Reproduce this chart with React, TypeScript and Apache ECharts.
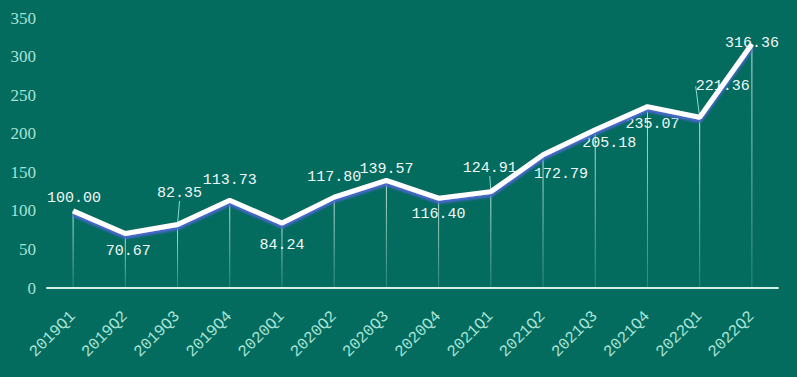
import React, { useEffect, useRef } from "react";
import * as echarts from "echarts";

const categories = [
  "2019Q1", "2019Q2", "2019Q3", "2019Q4", "2020Q1", "2020Q2", "2020Q3",
  "2020Q4", "2021Q1", "2021Q2", "2021Q3", "2021Q4", "2022Q1", "2022Q2",
];
const values = [
  100.0, 70.67, 82.35, 113.73, 84.24, 117.8, 139.57,
  116.4, 124.91, 172.79, 205.18, 235.07, 221.36, 316.36,
];
const yTicks = { min: 0, max: 350, interval: 50 };

// label placement per point: [position, distance, dx, dy, leaderLine]
const labelPlacement: [string, number, number, number, boolean][] = [
  ["top", 4, 1, 0, false],
  ["bottom", 10, 3, 0, false],
  ["top", 5, 2, -18, true],
  ["top", 12, 0, 0, false],
  ["bottom", 14, 0, 0, false],
  ["top", 12, 0, 0, false],
  ["top", 3, 0, 0, false],
  ["bottom", 8, 0, 0, false],
  ["top", 6, -1, -9, true],
  ["bottom", 12, 18, 0, false],
  ["bottom", 6, 14, 0, false],
  ["bottom", 10, 5, 0, false],
  ["top", 5, 23, -18, true],
  ["inside", 0, 0, 0, false],
];

export default function App() {
  const ref = useRef<HTMLDivElement>(null);
  useEffect(() => {
    if (!ref.current) return;
    const chart = echarts.init(ref.current, null, { renderer: "svg" });
    const labelData = values.map((v, i) => {
      const [position, distance, , , leader] = labelPlacement[i];
      return {
        value: v,
        label: { position, distance },
        labelLine: { show: leader },
      };
    });
    chart.setOption({
      animation: false,
      backgroundColor: "#046b5f",
      grid: { left: 47, right: 19, top: 18, bottom: 89 },
      xAxis: {
        type: "category",
        data: categories,
        boundaryGap: true,
        axisLine: { lineStyle: { color: "#d4f1ea", width: 2 } },
        axisTick: { show: false },
        axisLabel: {
          rotate: 45,
          margin: 26,
          color: "#a6e3d5",
          fontFamily: "Liberation Mono",
          fontSize: 16,
        },
      },
      yAxis: {
        type: "value",
        min: yTicks.min,
        max: yTicks.max,
        interval: yTicks.interval,
        axisLine: { show: false },
        axisTick: { show: false },
        splitLine: { show: false },
        axisLabel: {
          margin: 11,
          color: "#a6e3d5",
          fontFamily: "Liberation Serif",
          fontSize: 17,
        },
      },
      series: [
        {
          type: "bar",
          data: values,
          barWidth: 1,
          silent: true,
          z: 1,
          itemStyle: {
            color: new echarts.graphic.LinearGradient(0, 0, 0, 1, [
              { offset: 0, color: "rgba(210,245,236,0.9)" },
              { offset: 1, color: "rgba(210,245,236,0.2)" },
            ]),
          },
        },
        {
          type: "line",
          data: labelData,
          z: 2,
          symbol: "circle",
          symbolSize: 1,
          itemStyle: { color: "rgba(0,0,0,0)" },
          lineStyle: { opacity: 0 },
          label: {
            show: true,
            color: "#eef8f5",
            fontFamily: "Liberation Mono",
            fontSize: 15,
            formatter: (p: any) => Number(p.value).toFixed(2),
          },
          labelLine: {
            length2: 0,
            lineStyle: { color: "#8fd9cf", width: 1 },
          },
          labelLayout: (params: any) => {
            const p = labelPlacement[params.dataIndex];
            return { dx: p[2], dy: p[3] };
          },
        },
        {
          type: "line",
          data: values,
          z: 3,
          symbol: "none",
          lineStyle: {
            color: "#ffffff",
            width: 5,
            shadowColor: "#4a68cf",
            shadowOffsetY: 3,
            shadowOffsetX: 0,
            shadowBlur: 2,
          },
        },
      ],
    });
    return () => chart.dispose();
  }, []);
  return (
    <div
      ref={ref}
      style={{ position: "fixed", left: 0, top: 0, width: 797, height: 377 }}
    />
  );
}
